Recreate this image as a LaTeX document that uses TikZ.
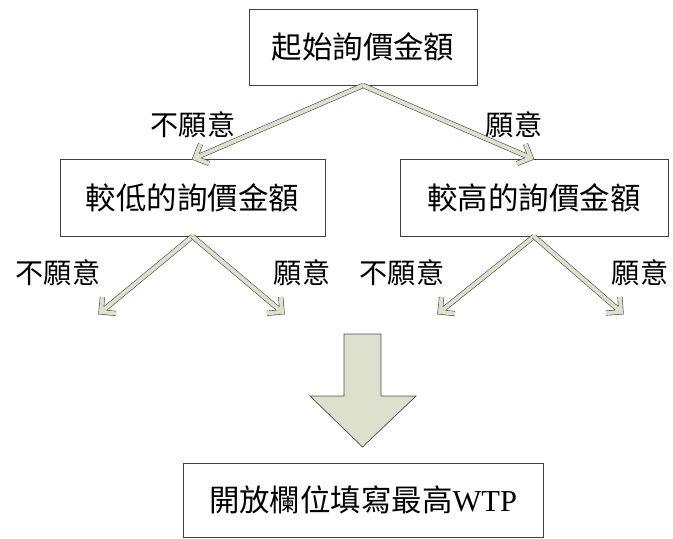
\documentclass[tikz,border=0pt]{standalone}
\usepackage{fontspec}
\setmainfont{Liberation Serif}
\newfontfamily\cjk{Noto Sans CJK TC}
\usetikzlibrary{calc, positioning}
\definecolor{arrowfill}{HTML}{DDE0CC}
\tikzstyle{box} = [draw=black!75, line width=0.8pt, fill=white, inner sep=0pt, font=\fontsize{26}{30}\selectfont\cjk]
\tikzstyle{lbl} = [inner sep=0pt, font=\fontsize{24}{28}\selectfont\cjk]
\tikzstyle{choice} = [draw=black!72, double=arrowfill, double distance=0.12cm, line width=0.5pt, line join=miter, line cap=butt]
\newcommand{\choicearrow}[2]{%
  \draw [choice] (#1) -- (#2)
    ($(#2)!0.45cm!45:(#1)$) -- (#2) -- ($(#2)!0.45cm!-45:(#1)$);}

\begin{document}
\begin{tikzpicture}[x=0.03cm, y=-0.03cm]
			\useasboundingbox (0,0) rectangle (673,539);

			\node [box, minimum width=6.84cm, minimum height=2.28cm] (start) at (363, 47) {起始詢價金額};
			\node [box, minimum width=7.95cm, minimum height=2.31cm] (low) at (192.5, 197.5) {較低的詢價金額};
			\node [box, minimum width=8.04cm, minimum height=2.31cm] (high) at (534, 197.5) {較高的詢價金額};
			\node [box, minimum width=10.8cm, minimum height=2.22cm] (final) at (363, 500) {開放欄位填寫最高{\rmfamily WTP}};

			\coordinate (s) at (start.south);
			\coordinate (lowtip) at (195, 158);
			\coordinate (hightip) at (531, 158);
			\coordinate (l) at (low.south);
			\coordinate (h) at (high.south);
			\coordinate (ll) at (101, 312);
			\coordinate (lh) at (282, 312);
			\coordinate (hl) at (440, 312);
			\coordinate (hh) at (621, 312);

			\choicearrow{s}{lowtip}
			\choicearrow{s}{hightip}
			\choicearrow{l}{ll}
			\choicearrow{l}{lh}
			\choicearrow{h}{hl}
			\choicearrow{h}{hh}

			\node [lbl] (no1) at (193, 125) {不願意};
			\node [lbl] (yes1) at (514, 125) {願意};
			\node [lbl] (no2) at (58, 273) {不願意};
			\node [lbl] (yes2) at (302, 273) {願意};
			\node [lbl] (no3) at (402, 273) {不願意};
			\node [lbl] (yes3) at (640, 273) {願意};

			% big arrow down to the final box
			\draw [draw=black!70, fill=arrowfill, line width=0.6pt]
				(344, 334) -- (381, 334) -- (381, 396) -- (416, 396) -- (362.5, 447)
				-- (310, 396) -- (344, 396) -- cycle;
		\end{tikzpicture}
\end{document}
